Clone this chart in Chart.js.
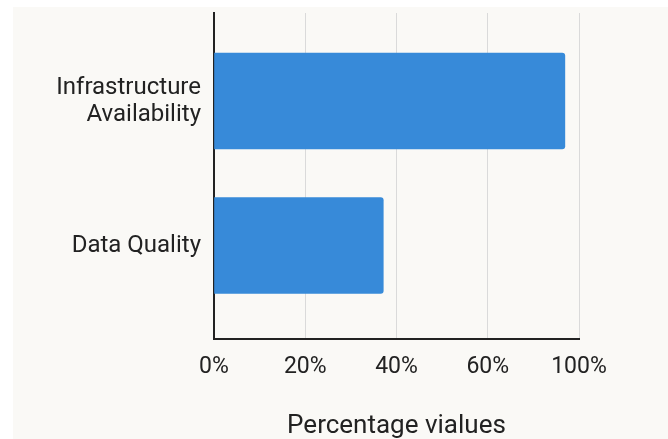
<!DOCTYPE html>
<html>
<head>
<meta charset="utf-8">
<script src="https://cdn.jsdelivr.net/npm/chart.js@4.4.1/dist/chart.umd.min.js"></script>
<style>
  html, body { margin: 0; padding: 0; background: #ffffff; }
  #wrap { position: absolute; left: 13px; top: 7px; width: 655px; height: 432px; background: #faf9f6; }
</style>
</head>
<body>
<div id="wrap"><canvas id="chart" width="655" height="432"></canvas></div>
<script>
// categories top to bottom, and their percentages
const categories = [['Infrastructure', 'Availability'], 'Data Quality'];
const percentValues = [76.9, 37.1];

// x axis ticks and the labels printed under them
const xTicks = [0, 20, 40, 60, 80];
const xTickLabels = ['0%', '20%', '40%', '60%', '100%'];
const axisTitle = 'Percentage vialues';

// category index range shown on the y axis (room above and below the bars)
const yMin = -0.609;
const yMax = 1.647;

Chart.defaults.font.family = 'Roboto, "Noto Sans", sans-serif';
Chart.defaults.color = '#222';

new Chart(document.getElementById('chart'), {
    type: 'bar',
    data: {
        datasets: [{
            data: percentValues.map((v, i) => ({x: v, y: i})),
            backgroundColor: '#378ad9',
            borderWidth: 0,
            borderRadius: 3,
            borderSkipped: 'start',
            barThickness: 96
        }]
    },
    options: {
        indexAxis: 'y',
        responsive: false,
        animation: false,
        layout: {
            padding: {top: 6, right: 89, bottom: 0, left: 0}
        },
        plugins: {
            legend: {display: false},
            tooltip: {enabled: false}
        },
        scales: {
            x: {
                type: 'linear',
                min: 0,
                max: 80,
                afterBuildTicks: (scale) => {
                    scale.ticks = xTicks.map(v => ({value: v}));
                },
                afterFit: (scale) => {
                    scale.height = 100;
                    scale.paddingLeft = 0;
                    scale.paddingRight = 0;
                },
                ticks: {
                    callback: (value, index) => xTickLabels[index],
                    font: {size: 23},
                    padding: 14,
                    color: '#222'
                },
                grid: {color: '#dadada', lineWidth: 1, drawTicks: false},
                border: {color: '#222', width: 2},
                title: {
                    display: true,
                    text: axisTitle,
                    font: {size: 26, lineHeight: 1.0},
                    padding: 0,
                    color: '#222'
                }
            },
            y: {
                type: 'linear',
                reverse: true,
                offset: false,
                min: yMin,
                max: yMax,
                afterBuildTicks: (scale) => {
                    scale.ticks = categories.map((c, i) => ({value: i}));
                    scale.min = yMin;
                    scale.max = yMax;
                },
                afterFit: (scale) => {
                    scale.width = 201;
                    scale.paddingTop = 0;
                    scale.paddingBottom = 0;
                },
                ticks: {
                    callback: (value) => categories[value],
                    font: {size: 24, lineHeight: 1.125},
                    padding: 5,
                    color: '#222'
                },
                grid: {display: false},
                border: {color: '#222', width: 2}
            }
        }
    }
});
</script>
</body>
</html>
